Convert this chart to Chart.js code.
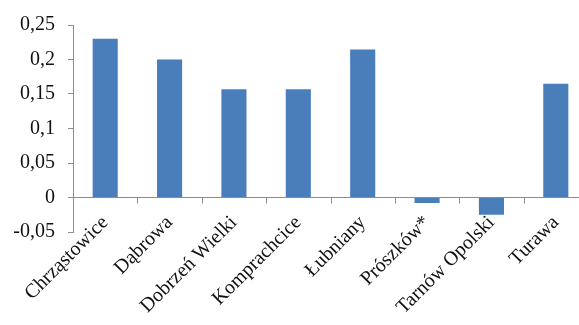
<!DOCTYPE html>
<html>
<head>
<meta charset="utf-8">
<script src="https://cdn.jsdelivr.net/npm/chart.js@4.4.1/dist/chart.umd.min.js"></script>
<style>
  html, body { margin: 0; padding: 0; background: #fff; overflow: hidden; }
  #wrap { width: 579px; height: 325px; overflow: hidden; }
</style>
</head>
<body>
<div id="wrap"><canvas id="c" width="588" height="325"></canvas></div>
<script>
// Gminy and their values
const categories = ['Chrząstowice', 'Dąbrowa', 'Dobrzeń Wielki', 'Komprachcice', 'Łubniany', 'Prószków*', 'Tarnów Opolski', 'Turawa'];
const values = [0.23, 0.2, 0.157, 0.157, 0.2145, -0.008, -0.025, 0.165];
const yTickValues = [-0.05, 0, 0.05, 0.1, 0.15, 0.2, 0.25];

const AXIS = '#8c8c8c';
const FONT = { family: "'Liberation Serif', 'Times New Roman', serif", size: 20 };

// Zero axis line with short tick marks between the categories
const zeroAxis = {
  id: 'zeroAxis',
  afterDatasetsDraw(chart) {
    const { ctx, scales: { x, y }, chartArea } = chart;
    const y0 = Math.round(y.getPixelForValue(0)) + 0.5;
    const n = categories.length;
    const step = (x.right - x.left) / n;
    ctx.save();
    ctx.strokeStyle = AXIS;
    ctx.lineWidth = 1;
    ctx.beginPath();
    ctx.moveTo(chartArea.left, y0);
    ctx.lineTo(chartArea.right, y0);
    for (let i = 1; i <= n; i++) {
      const px = Math.round(x.left + i * step) + 0.5;
      ctx.moveTo(px, y0);
      ctx.lineTo(px, y0 + 6);
    }
    ctx.stroke();
    ctx.restore();
  }
};

new Chart(document.getElementById('c'), {
  type: 'bar',
  data: {
    labels: categories,
    datasets: [{
      data: values,
      backgroundColor: '#4a7ebb',
      borderWidth: 0,
      categoryPercentage: 1,
      barPercentage: 0.39
    }]
  },
  options: {
    responsive: false,
    animation: false,
    layout: { padding: { top: 24, left: 0, right: 0, bottom: 0 } },
    plugins: { legend: { display: false }, tooltip: { enabled: false } },
    scales: {
      x: {
        grid: { display: false, drawTicks: false },
        border: { display: false },
        ticks: {
          font: FONT,
          color: '#111',
          minRotation: 45,
          maxRotation: 45,
          autoSkip: false,
          // labels sit just under the zero line, above the bottom of the plot
          mirror: true,
          padding: 4,
          labelOffset: 17
        },
        afterFit(scale) { scale.height = 93; }
      },
      y: {
        min: -0.05,
        max: 0.25,
        afterBuildTicks(scale) { scale.ticks = yTickValues.map(v => ({ value: v })); },
        grid: {
          drawOnChartArea: false,
          drawTicks: true,
          tickLength: 5,
          tickColor: AXIS
        },
        border: { display: true, color: AXIS },
        ticks: {
          font: FONT,
          color: '#111',
          padding: 13,
          callback: v => v.toString().replace('.', ',')
        },
        afterFit(scale) { scale.width = 73; }
      }
    }
  },
  plugins: [zeroAxis]
});
</script>
</body>
</html>
